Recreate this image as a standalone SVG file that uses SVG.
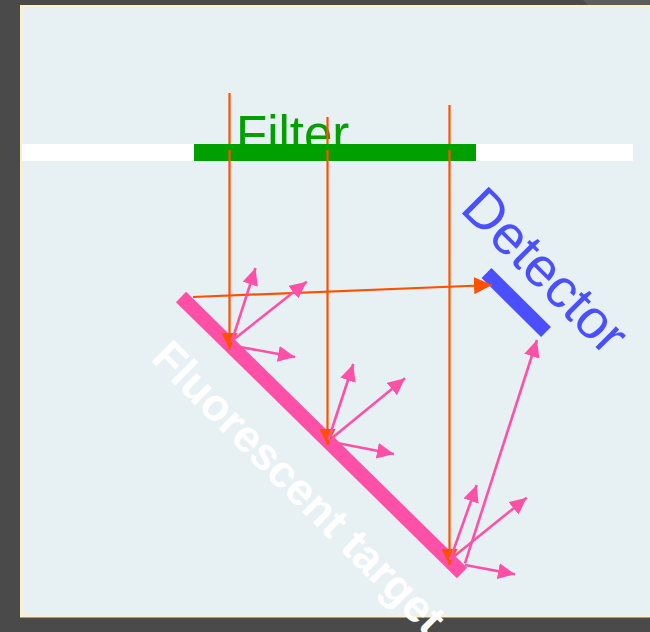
<svg xmlns="http://www.w3.org/2000/svg" width="650" height="632" viewBox="0 0 650 632">
  <style>
    .lbl { font-family: "Liberation Sans", Arial, sans-serif; }
    .ray { stroke: #ff5000; stroke-width: 2.2; fill: none; }
    .fl { stroke: #ff50a8; stroke-width: 2.6; fill: none; }
  </style>
  <defs>
    <marker id="headO" markerUnits="userSpaceOnUse" viewBox="0 0 16 16" markerWidth="16" markerHeight="16" refX="16" refY="8" orient="auto">
      <path d="M0,0 L16,8 L0,16 z" fill="#ff5000"/>
    </marker>
    <marker id="headO2" markerUnits="userSpaceOnUse" viewBox="0 0 18 17" markerWidth="18" markerHeight="17" refX="18" refY="8.5" orient="auto">
      <path d="M0,0 L18,8.5 L0,17 z" fill="#ff5000"/>
    </marker>
    <marker id="headP" markerUnits="userSpaceOnUse" viewBox="0 0 17 16" markerWidth="17" markerHeight="16" refX="17" refY="8" orient="auto">
      <path d="M0,0 L17,8 L0,16 z" fill="#ff50a8"/>
    </marker>
  </defs>

  <!-- background -->
  <rect x="0" y="0" width="650" height="632" fill="#4a4a4a"/>
  <polygon points="583,0 650,0 650,5 588,5" fill="#5c5c5c"/>
  <rect x="20" y="5" width="640" height="612.5" fill="#fcefc9"/>
  <rect x="22.5" y="7.5" width="640" height="607.5" fill="#e7f0f2"/>

  <!-- filter plane -->
  <g id="filter">
    <rect x="22" y="144" width="611" height="17" fill="#ffffff"/>
    <text class="lbl" x="236" y="152" font-size="51" fill="#00a000">Filter</text>
  </g>

  <g id="excitation-rays">
    <line class="ray" x1="229.5" y1="93" x2="229.5" y2="150"/>
    <line class="ray" x1="327.5" y1="117" x2="327.5" y2="150"/>
    <line class="ray" x1="449.5" y1="105" x2="449.5" y2="150"/>
  </g>

  <g id="filter-bar">
    <rect x="194" y="144" width="282" height="17" fill="#00a000"/>
  </g>

  <g id="target">
    <line x1="181" y1="297" x2="462" y2="573" stroke="#ff50a8" stroke-width="14.5"/>
    <text class="lbl" transform="translate(149.4,359.4) rotate(45)" font-size="45" font-weight="bold" fill="#ffffff">Fluorescent target</text>
  </g>

  <g id="detector">
    <line x1="486.5" y1="273" x2="546" y2="332" stroke="#4a50ff" stroke-width="14"/>
    <text class="lbl" transform="translate(458.7,210.3) rotate(45)" font-size="55" fill="#4a50ff">Detector</text>
  </g>

  <g id="connectors">
    <line class="ray" x1="229.5" y1="150" x2="229.5" y2="349" marker-end="url(#headO)"/>
    <line class="ray" x1="327.5" y1="150" x2="327.5" y2="445" marker-end="url(#headO)"/>
    <line class="ray" x1="449.5" y1="150" x2="449.5" y2="565" marker-end="url(#headO)"/>
    <line class="ray" x1="193" y1="297" x2="492" y2="285" marker-end="url(#headO2)"/>

    <line class="fl" x1="231.7" y1="341.7" x2="255.5" y2="268" marker-end="url(#headP)"/>
    <line class="fl" x1="233" y1="340" x2="306.7" y2="281.7" marker-end="url(#headP)"/>
    <line class="fl" x1="238.3" y1="346.7" x2="295" y2="357" marker-end="url(#headP)"/>

    <line class="fl" x1="328.3" y1="440" x2="353.3" y2="364" marker-end="url(#headP)"/>
    <line class="fl" x1="331.7" y1="438.3" x2="405" y2="378.3" marker-end="url(#headP)"/>
    <line class="fl" x1="338.3" y1="443.3" x2="394" y2="454" marker-end="url(#headP)"/>

    <line class="fl" x1="450" y1="560" x2="476.7" y2="485" marker-end="url(#headP)"/>
    <line class="fl" x1="451.7" y1="558.3" x2="526.7" y2="497.7" marker-end="url(#headP)"/>
    <line class="fl" x1="465" y1="565" x2="515" y2="574.3" marker-end="url(#headP)"/>
    <line class="fl" x1="465" y1="563.3" x2="537" y2="340" marker-end="url(#headP)"/>
  </g>
</svg>
